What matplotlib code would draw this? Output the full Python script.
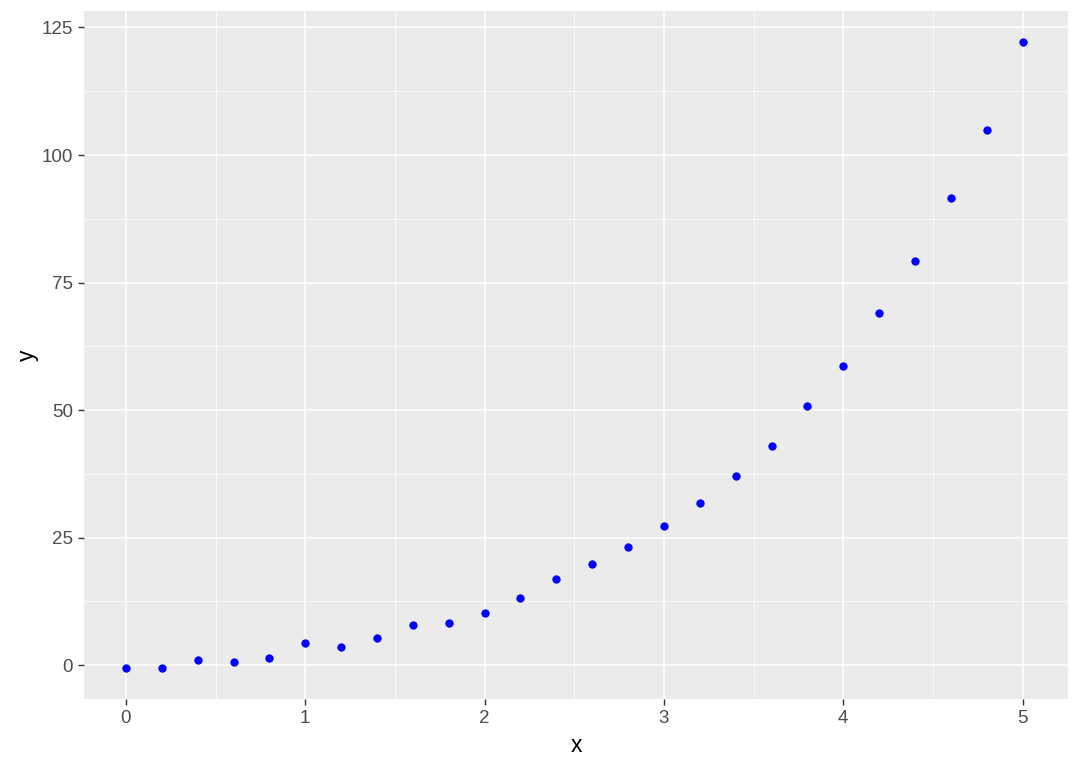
import matplotlib
matplotlib.use("Agg")
import matplotlib.pyplot as plt
import numpy as np

x_vals = [0.0, 0.2, 0.4, 0.6, 0.8, 1.0, 1.2, 1.4, 1.6, 1.8, 2.0, 2.2, 2.4,
          2.6, 2.8, 3.0, 3.2, 3.4, 3.6, 3.8, 4.0, 4.2, 4.4, 4.6, 4.8, 5.0]
y_vals = [-0.5, -0.5, 1.0, 0.6, 1.5, 4.3, 3.5, 5.3, 7.8, 8.2, 10.2, 13.1, 16.8,
          19.8, 23.1, 27.2, 31.7, 37.0, 43.0, 50.9, 58.7, 69.1, 79.2, 91.5, 105.0, 122.1]
x_ticks = [0, 1, 2, 3, 4, 5]
y_ticks = [0, 25, 50, 75, 100, 125]

plt.rcParams['font.family'] = ['Liberation Sans', 'DejaVu Sans']
fig = plt.figure(figsize=(10.8, 7.71), dpi=100)
ax = fig.add_axes([84/1080, 1 - 699/771, (1068-84)/1080, (699-11)/771])
ax.set_facecolor('#EBEBEB')
for s in ax.spines.values():
    s.set_visible(False)

ax.set_xlim(-0.234, 5.253)
ymin, ymax = min(y_vals), max(y_vals)
ax.set_ylim(ymin - 0.05*(ymax-ymin), ymax + 0.05*(ymax-ymin))

ax.set_xticks(x_ticks)
ax.set_yticks(y_ticks)
ax.set_xticks([0.5, 1.5, 2.5, 3.5, 4.5], minor=True)
ax.set_yticks([12.5, 37.5, 62.5, 87.5, 112.5], minor=True)
ax.grid(which='major', color='white', linewidth=1.1)
ax.grid(which='minor', color='white', linewidth=0.55)
ax.set_axisbelow(True)
ax.tick_params(which='major', length=4.3, width=1.0, color='#333333',
               labelcolor='#4D4D4D', labelsize=13.5, pad=3.5)
ax.tick_params(which='minor', length=0)

ax.scatter(x_vals, y_vals, s=36, color='blue', zorder=3, linewidths=0)

ax.set_xlabel('x', fontsize=16.5, color='black', labelpad=5)
ax.set_ylabel('y', fontsize=16.5, color='black', labelpad=2)

fig.savefig('out.png', dpi=100)
